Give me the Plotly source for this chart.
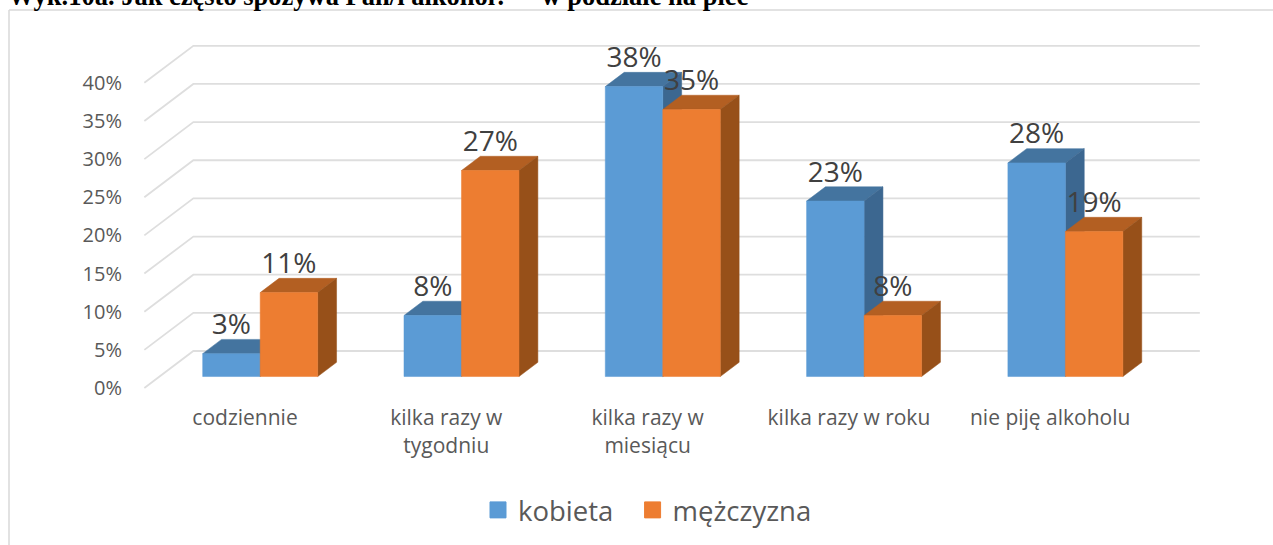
import plotly.graph_objects as go

# ---- data ----
categories = ["codziennie", "kilka razy w<br>tygodniu", "kilka razy w<br>miesiącu",
              "kilka razy w roku", "nie piję alkoholu"]
kobieta = [3, 8, 38, 23, 28]
mezczyzna = [11, 27, 35, 8, 19]
tick_values = [0, 5, 10, 15, 20, 25, 30, 35, 40]
tick_labels = ["0%", "5%", "10%", "15%", "20%", "25%", "30%", "35%", "40%"]
title_text = "Wyk.10a. Jak często spożywa Pan/i alkohol?  – w podziale na płeć"

# ---- geometry of the oblique projection (px) ----
W, H = 1273, 545
PX_CAT = 201.3      # px per category
PX_PCT = 7.63       # px per percent
X0_PX, Y0_PX = 245, 388   # pixel of category 0 / value 0 at depth 0
L, B = 128, 399     # plot area left edge / bottom edge
DX = 49 / PX_CAT    # full-depth shift, x units
DY = 37 / PX_PCT    # full-depth shift, y units
BAR_W = 57.5 / PX_CAT
D_FRONT, D_BACK = 0.31, 0.695
X_LEFT = -0.5       # left end of the floor, front
X_RIGHT = 4.5

x_range = [(L - X0_PX) / PX_CAT, (W - X0_PX) / PX_CAT]
y_range = [(Y0_PX - B) / PX_PCT, Y0_PX / PX_PCT]


def pr(x, v, d):
    return x + DX * d, v + DY * d


fig = go.Figure()

# gridlines: front-left corner -> back wall -> right end of back wall
for t in tick_values:
    p = [pr(X_LEFT, t, 0), pr(X_LEFT, t, 1), pr(X_RIGHT, t, 1)]
    fig.add_trace(go.Scatter(x=[a for a, _ in p], y=[b for _, b in p], mode="lines",
                             line=dict(color="#dedede", width=1.8),
                             hoverinfo="skip", showlegend=False))


def poly(pts, color):
    xs = [a for a, _ in pts] + [pts[0][0]]
    ys = [b for _, b in pts] + [pts[0][1]]
    fig.add_trace(go.Scatter(x=xs, y=ys, mode="lines", fill="toself", fillcolor=color,
                             line=dict(color=color, width=0.5),
                             hoverinfo="skip", showlegend=False))


def bar(i, side, v, front, top, right):
    x0 = i + (-BAR_W if side == 0 else 0)
    x1 = x0 + BAR_W
    # top face
    poly([pr(x0, v, D_FRONT), pr(x1, v, D_FRONT), pr(x1, v, D_BACK), pr(x0, v, D_BACK)], top)
    # right face
    poly([pr(x1, 0, D_FRONT), pr(x1, 0, D_BACK), pr(x1, v, D_BACK), pr(x1, v, D_FRONT)], right)
    # front face
    poly([pr(x0, 0, D_FRONT), pr(x1, 0, D_FRONT), pr(x1, v, D_FRONT), pr(x0, v, D_FRONT)], front)


for i in range(len(categories)):
    bar(i, 0, kobieta[i], "#5b9bd5", "#44749f", "#3c6790")
    bar(i, 1, mezczyzna[i], "#ed7d31", "#b35f22", "#975019")

# data labels
for side, vals in enumerate([kobieta, mezczyzna]):
    xs, ys, txt = [], [], []
    for i, v in enumerate(vals):
        x0 = i + (-BAR_W if side == 0 else 0)
        px, py = pr(x0 + BAR_W / 2, v + 26.5 / PX_PCT, D_FRONT)
        xs.append(px)
        ys.append(py)
        txt.append(f"{v}%")
    fig.add_trace(go.Scatter(x=xs, y=ys, text=txt, mode="text", textposition="middle center",
                             textfont=dict(family="Open Sans", size=28, color="#404040"),
                             hoverinfo="skip", showlegend=False, cliponaxis=False))

# legend entries
for name, color in [("kobieta\u00a0\u00a0", "#5b9bd5"), ("mężczyzna", "#ed7d31")]:
    fig.add_trace(go.Scatter(x=[None], y=[None], mode="markers", name=name,
                             marker=dict(symbol="square", size=16, color=color,
                                         line=dict(color=color, width=1))))

plot_w = W - L
fig.update_layout(
    width=W, height=H,
    margin=dict(l=L, r=0, t=0, b=H - B, pad=0),
    paper_bgcolor="white", plot_bgcolor="white",
    xaxis=dict(range=x_range, tickmode="array", tickvals=list(range(len(categories))),
               ticktext=categories, showgrid=False, zeroline=False, showline=False,
               ticks="outside", ticklen=0, tickcolor="rgba(0,0,0,0)", tickangle=0,
               tickfont=dict(family="Open Sans", size=21, color="#595959")),
    yaxis=dict(range=y_range, tickmode="array", tickvals=tick_values, ticktext=tick_labels,
               showgrid=False, zeroline=False, showline=False,
               ticks="outside", ticklen=1, tickcolor="rgba(0,0,0,0)",
               tickfont=dict(family="Open Sans", size=20, color="#595959")),
    showlegend=True,
    legend=dict(orientation="h", x=(478 - L) / plot_w, xanchor="left",
                y=(B - 510) / B, yanchor="middle", yref="paper",
                font=dict(family="Open Sans", size=27.5, color="#595959"),
                bgcolor="rgba(0,0,0,0)", itemwidth=30, itemsizing="trace"),
    shapes=[
        dict(type="line", xref="paper", yref="paper",
             x0=(9 - L) / plot_w, x1=1, y0=(B - 10) / B, y1=(B - 10) / B,
             line=dict(color="#d9d9d9", width=1.5)),
        dict(type="line", xref="paper", yref="paper",
             x0=(9 - L) / plot_w, x1=(9 - L) / plot_w, y0=(B - 10) / B, y1=(B - 545) / B,
             line=dict(color="#d9d9d9", width=1.5)),
    ],
    annotations=[
        dict(text=f"<b>{title_text}</b>", xref="paper", yref="paper",
             x=(6 - L) / plot_w, xanchor="left", y=(B + 4.5) / B, yanchor="middle",
             showarrow=False, font=dict(family="Liberation Serif", size=26.5, color="black")),
    ],
)

fig.write_html("out.html", config=dict(displayModeBar=False),
               post_script="document.body.style.margin='0';")
